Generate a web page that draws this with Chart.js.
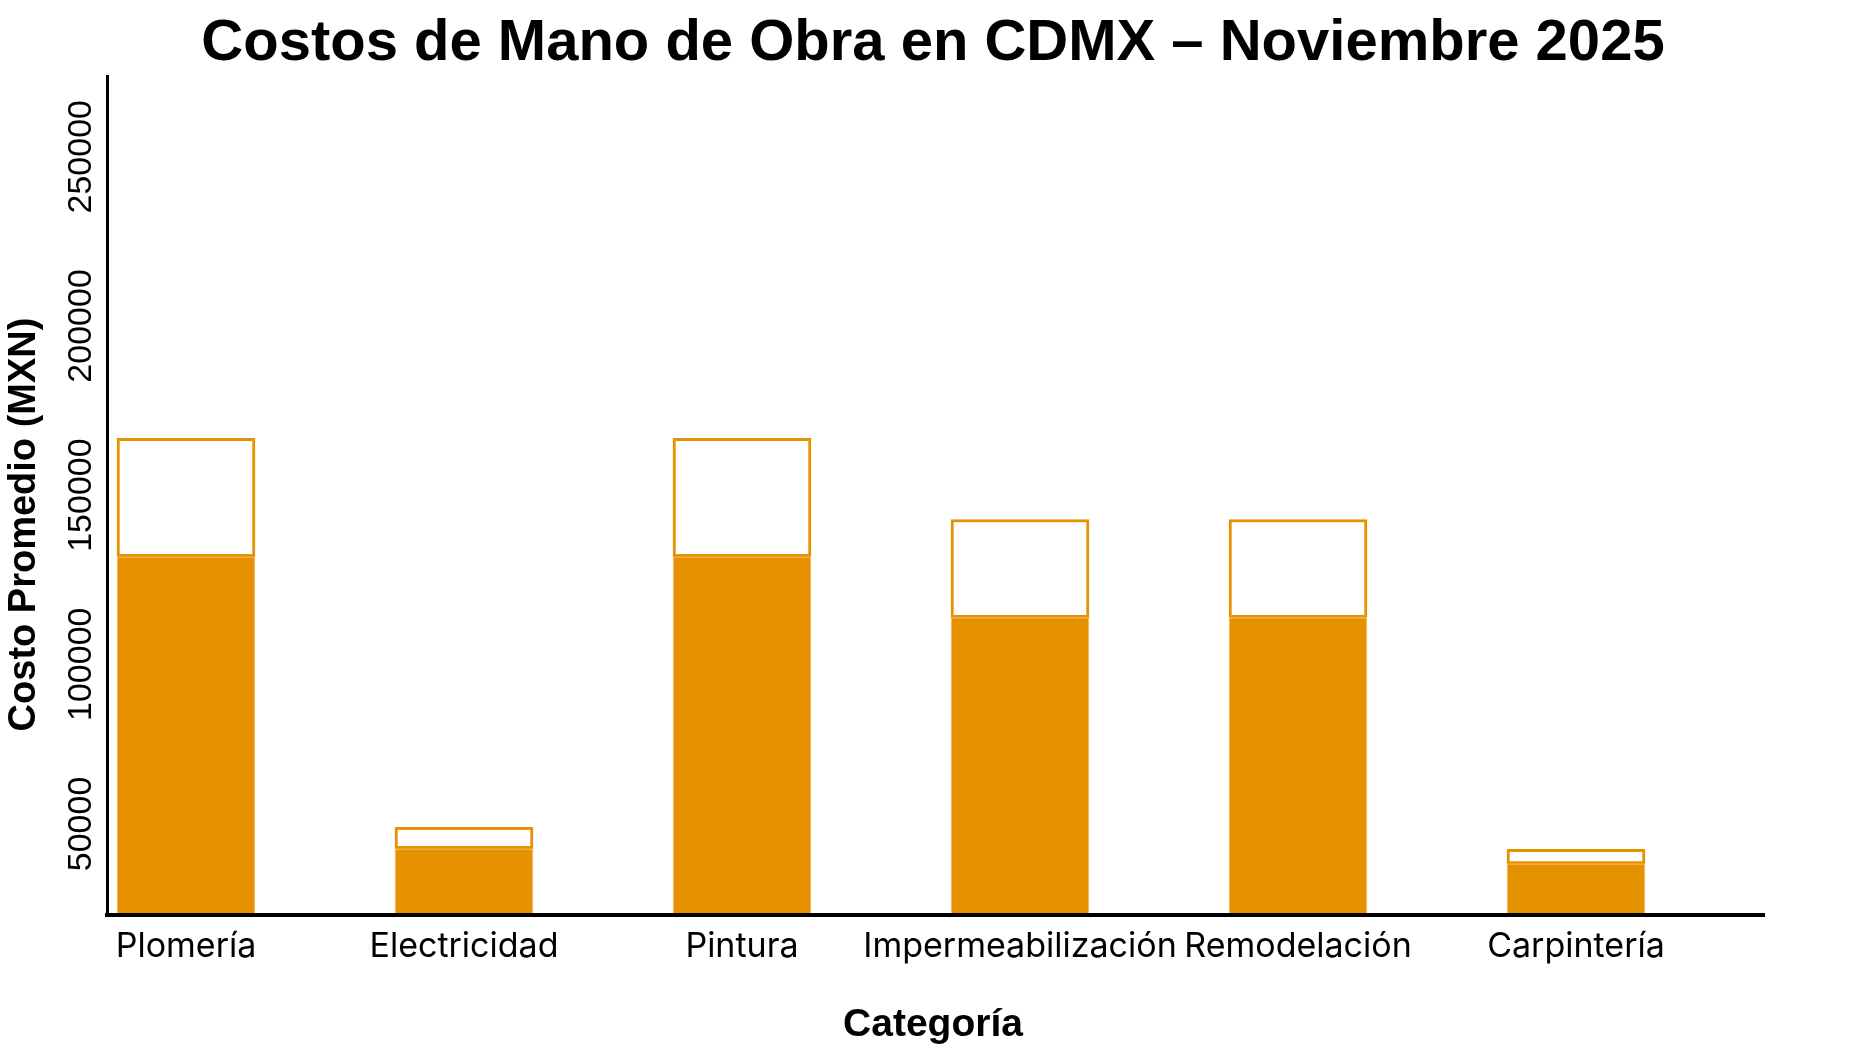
<!DOCTYPE html>
<html lang="es">
<head>
  <meta charset="UTF-8">
  <title>Costos de Mano de Obra en CDMX – Noviembre 2025</title>
  <script src="https://cdn.jsdelivr.net/npm/chart.js"></script>
  <style>
    html, body { margin: 0; padding: 0; background: #fff; }
    .wrap { width: 1866px; height: 1049px; position: relative; }
  </style>
</head>
<body>
  <div class="wrap"><canvas id="chart"></canvas></div>

  <script>
    // datos
    const categorias = ['Plomería', 'Electricidad', 'Pintura', 'Impermeabilización', 'Remodelación', 'Carpintería'];
    const costoBase = [115000, 28700, 115000, 97000, 97000, 24200];
    const costoTope = [150000, 35000, 150000, 126000, 126000, 28500];
    const ticksY = [50000, 100000, 150000, 200000, 250000];

    const titulo = 'Costos de Mano de Obra en CDMX – Noviembre 2025';
    const tituloY = 'Costo Promedio (MXN)';
    const tituloX = 'Categoría';

    const naranja = '#E69100';
    const sans = '"Liberation Sans", Arial, sans-serif';

    // titulos de ejes centrados en la figura
    const titulosEjes = {
      id: 'titulosEjes',
      afterDraw(chart) {
        const { ctx, width, height } = chart;
        ctx.save();
        ctx.fillStyle = '#000';
        ctx.textAlign = 'center';
        ctx.textBaseline = 'middle';
        ctx.font = 'bold 38px ' + sans;
        ctx.translate(25, height / 2);
        ctx.rotate(-Math.PI / 2);
        ctx.fillText(tituloY, 0, 0);
        ctx.restore();

        ctx.save();
        ctx.fillStyle = '#000';
        ctx.textAlign = 'center';
        ctx.textBaseline = 'middle';
        ctx.font = 'bold 39px ' + sans;
        ctx.fillText(tituloX, width / 2, 1025.5);
        ctx.restore();
      }
    };

    new Chart(document.getElementById('chart'), {
      type: 'bar',
      data: {
        datasets: [
          {
            label: 'Base',
            data: costoBase.map((v, i) => ({ x: i, y: v })),
            backgroundColor: naranja,
            borderColor: '#F7CD8A',
            borderWidth: 1,
            barThickness: 138
          },
          {
            label: 'Tope',
            data: costoTope.map((v, i) => ({ x: i, y: v - costoBase[i] })),
            backgroundColor: '#fff',
            borderColor: naranja,
            borderWidth: 3,
            borderSkipped: false,
            barThickness: 138
          }
        ]
      },
      options: {
        responsive: true,
        maintainAspectRatio: false,
        animation: false,
        layout: { padding: 0 },
        plugins: {
          legend: { display: false },
          tooltip: { enabled: false },
          title: {
            display: true,
            text: titulo,
            color: '#000',
            font: { family: sans, size: 58, weight: 'bold', lineHeight: 1.0966 },
            padding: { top: 12.4, bottom: 0 }
          }
        },
        scales: {
          x: {
            type: 'linear',
            stacked: true,
            offset: false,
            min: -0.2831,
            max: 5.6763,
            grid: { display: false, drawTicks: false },
            border: { display: true, color: '#000', width: 4, z: 1 },
            ticks: {
              stepSize: 1,
              includeBounds: false,
              autoSkip: false,
              maxRotation: 0,
              padding: 12,
              color: '#000',
              font: { family: 'Inter, sans-serif', size: 34 },
              callback: v => categorias[v]
            },
            afterFit: s => { s.height = 134.3; }
          },
          y: {
            stacked: true,
            beginAtZero: false,
            min: 9200,
            max: 257100,
            grid: { display: false, drawTicks: false },
            border: { display: true, color: '#000', width: 3, z: 1 },
            afterBuildTicks: s => { s.ticks = ticksY.map(v => ({ value: v })); },
            ticks: {
              minRotation: 90,
              maxRotation: 90,
              padding: 26,
              color: '#000',
              font: { family: sans, size: 34 },
              callback: v => String(v)
            },
            afterFit: s => { s.width = 107.3; }
          },
          // margen derecho vacio, asi el titulo queda centrado en la figura
          margen: {
            type: 'linear',
            position: 'right',
            grid: { display: false },
            border: { display: false },
            ticks: { display: false },
            afterFit: s => { s.width = 102; }
          }
        }
      },
      plugins: [titulosEjes]
    });
  </script>
</body>
</html>
